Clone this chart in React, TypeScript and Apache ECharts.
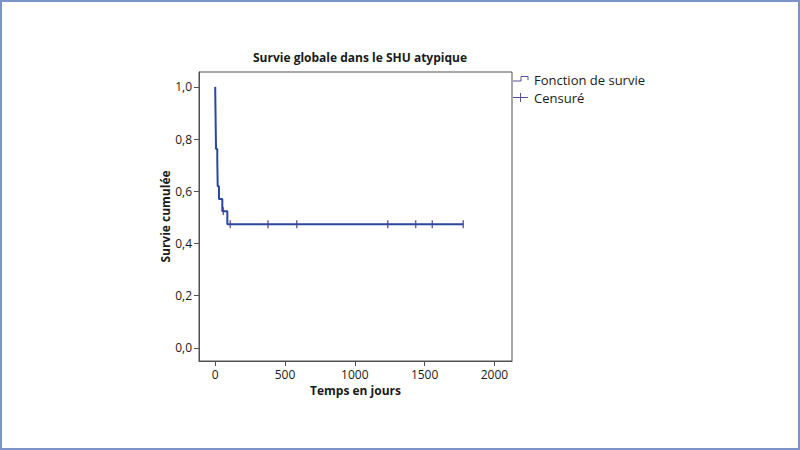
import React, { useEffect, useRef } from "react";
import * as echarts from "echarts";

// Kaplan-Meier survival estimate (time in days, cumulative survival)
const survivalTimes = [0, 1, 6, 15, 18, 27, 51, 87, 1777];
const survivalValues = [1.0, 0.952, 0.762, 0.714, 0.619, 0.571, 0.524, 0.474, 0.474];
// Censored observations
const censoredTimes = [58, 108, 378, 584, 1236, 1436, 1555, 1777];
const censoredValues = [0.524, 0.474, 0.474, 0.474, 0.474, 0.474, 0.474, 0.474];

const xTicks = [0, 500, 1000, 1500, 2000];
const yTicks = [0.0, 0.2, 0.4, 0.6, 0.8, 1.0];
const xRange = [-116, 2126];
const yRange = [-0.05, 1.057];

const titleText = "Survie globale dans le SHU atypique";
const xName = "Temps en jours";
const yName = "Survie cumulée";
const legendNames = ["Fonction de survie", "Censuré"];

const FONT = "'Open Sans', 'Noto Sans', sans-serif";
const LINE_COLOR = "#2a48a0";
const CENSOR_COLOR = "#4d3f8e";
const LEGEND_COLOR = "#5b4f99";
const AXIS_COLOR = "#505050";

export default function App() {
  const ref = useRef<HTMLDivElement>(null);

  useEffect(() => {
    if (!ref.current) return;
    const chart = echarts.init(ref.current, null, { renderer: "svg" });

    const curve = survivalTimes.map((t, i) => [t, survivalValues[i]]);
    const censored = censoredTimes.map((t, i) => [t, censoredValues[i]]);

    const option: any = {
      animation: false,
      backgroundColor: "#ffffff",
      title: {
        text: titleText,
        left: 355,
        top: 46,
        textAlign: "center",
        textStyle: { fontFamily: FONT, fontSize: 12, fontWeight: "bold", color: "#1a1a1a" },
      },
      grid: {
        left: 199,
        right: 800 - 512,
        top: 72,
        bottom: 450 - 361,
        show: true,
        borderColor: AXIS_COLOR,
        borderWidth: 1,
        backgroundColor: "transparent",
      },
      xAxis: {
        type: "value",
        min: xRange[0],
        max: xRange[1],
        name: xName,
        nameLocation: "middle",
        nameGap: 23,
        nameTextStyle: { fontFamily: FONT, fontSize: 12, fontWeight: "bold", color: "#1a1a1a" },
        axisLine: { show: true, onZero: false, lineStyle: { color: AXIS_COLOR, width: 1 } },
        axisTick: {
          show: true,
          length: 5,
          customValues: xTicks,
          lineStyle: { color: AXIS_COLOR, width: 1 },
        },
        axisLabel: {
          margin: 7,
          fontFamily: FONT,
          fontSize: 12,
          color: "#1a1a1a",
          customValues: xTicks,
          formatter: (v: number) => String(v),
        },
        splitLine: { show: false },
      },
      yAxis: {
        type: "value",
        min: yRange[0],
        max: yRange[1],
        name: yName,
        nameLocation: "middle",
        nameGap: 27,
        nameTextStyle: { fontFamily: FONT, fontSize: 12, fontWeight: "bold", color: "#1a1a1a" },
        axisLine: { show: true, onZero: false, lineStyle: { color: AXIS_COLOR, width: 1 } },
        axisTick: {
          show: true,
          length: 5,
          customValues: yTicks,
          lineStyle: { color: AXIS_COLOR, width: 1 },
        },
        axisLabel: {
          margin: 7,
          fontFamily: FONT,
          fontSize: 12,
          color: "#1a1a1a",
          customValues: yTicks,
          formatter: (v: number) => v.toFixed(1).replace(".", ","),
        },
        splitLine: { show: false },
      },
      graphic: [
        {
          type: "rect",
          shape: { x: 1, y: 1, width: 798, height: 448 },
          style: { fill: "none", stroke: "#7b93c9", lineWidth: 2 },
          silent: true,
          z: 100,
        },
        {
          type: "polyline",
          shape: { points: [[513, 81], [521, 81], [521, 76.5], [528, 76.5], [528, 80]] },
          style: { fill: "none", stroke: LEGEND_COLOR, lineWidth: 1 },
          silent: true,
        },
        {
          type: "text",
          x: 534,
          y: 80,
          style: {
            text: legendNames[0],
            fontFamily: FONT,
            fontSize: 13,
            fill: "#1a1a1a",
            verticalAlign: "middle",
          },
          silent: true,
        },
        {
          type: "line",
          shape: { x1: 513, y1: 97.5, x2: 528, y2: 97.5 },
          style: { stroke: LEGEND_COLOR, lineWidth: 1 },
          silent: true,
        },
        {
          type: "line",
          shape: { x1: 520.5, y1: 93, x2: 520.5, y2: 102 },
          style: { stroke: LEGEND_COLOR, lineWidth: 1 },
          silent: true,
        },
        {
          type: "text",
          x: 534,
          y: 98,
          style: {
            text: legendNames[1],
            fontFamily: FONT,
            fontSize: 13,
            fill: "#1a1a1a",
            verticalAlign: "middle",
          },
          silent: true,
        },
      ],
      series: [
        {
          name: legendNames[0],
          type: "line",
          step: "end",
          data: curve,
          showSymbol: false,
          symbol: "none",
          lineStyle: { color: LINE_COLOR, width: 2 },
          z: 2,
        },
        {
          name: legendNames[1],
          type: "scatter",
          data: censored,
          symbol: "rect",
          symbolSize: [1.5, 8],
          itemStyle: { color: CENSOR_COLOR },
          z: 3,
        },
      ],
    };

    chart.setOption(option);
    return () => chart.dispose();
  }, []);

  return (
    <div
      ref={ref}
      style={{ position: "fixed", left: 0, top: 0, width: 800, height: 450 }}
    />
  );
}
